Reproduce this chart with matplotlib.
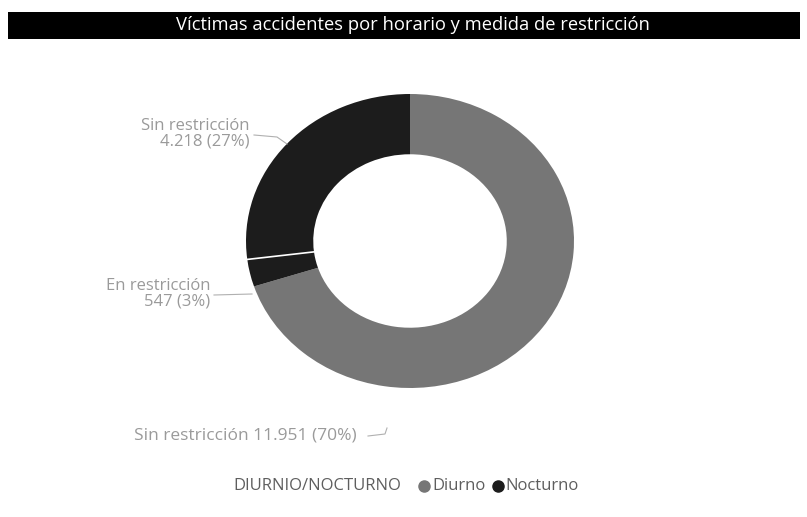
import numpy as np
import matplotlib
matplotlib.use("Agg")
import matplotlib.pyplot as plt

# datos
grupos = ["Diurno", "Nocturno", "Nocturno"]
medidas = ["Sin restricción", "En restricción", "Sin restricción"]
victimas = ["11.951", "547", "4.218"]
porcentajes = [70, 3, 27]
colores_grupo = {"Diurno": "#767676", "Nocturno": "#1c1c1c"}

titulo = "Víctimas accidentes por horario y medida de restricción"
leyenda_titulo = "DIURNIO/NOCTURNO"
leyenda_items = ["Diurno", "Nocturno"]

plt.rcParams['font.family'] = ['Open Sans', 'DejaVu Sans']

W, H = 807, 517
fig = plt.figure(figsize=(W / 100, H / 100), dpi=100)
fig.patch.set_facecolor("white")

# barra del titulo
bar = fig.add_axes([8 / W, 1 - 39 / H, 792 / W, 27 / H])
bar.set_facecolor("black")
bar.set_xticks([]), bar.set_yticks([])
for s in bar.spines.values():
    s.set_visible(False)
bar.text((413 - 8) / 792, 0.5, titulo, color="white", fontsize=13.2, ha="center", va="center",
         transform=bar.transAxes)

# dona (ligeramente achatada como en la imagen)
cx, cy, rx, ry = 410, 241, 164, 147
ax = fig.add_axes([(cx - rx) / W, 1 - (cy + ry) / H, 2 * rx / W, 2 * ry / H])
cols = [colores_grupo[g] for g in grupos]
wedges, _ = ax.pie(porcentajes, colors=cols, startangle=90, counterclock=False,
                   radius=1, wedgeprops=dict(width=0.41, edgecolor="none"))
ax.set_xlim(-1, 1)
ax.set_ylim(-1, 1)
ax.set_aspect("auto")
ax.axis("off")

# linea blanca entre los dos segmentos nocturnos
ang = np.deg2rad(wedges[1].theta1)
ax.plot([0.59 * np.cos(ang), np.cos(ang)], [0.59 * np.sin(ang), np.sin(ang)],
        color="white", lw=1.2)

txt_col = "#9a9a9a"
lin_col = "#b0b0b0"
fs = 12
# etiquetas
fig.text(250 / W, 1 - 134 / H, f"{medidas[2]}\n{victimas[2]} ({porcentajes[2]}%)",
         ha="right", va="center", fontsize=fs, color=txt_col, linespacing=0.95)
fig.add_artist(plt.Line2D([254 / W, 277 / W, 287 / W],
                          [1 - 135 / H, 1 - 137 / H, 1 - 144 / H], color=lin_col, lw=0.8))

fig.text(210 / W, 1 - 294 / H, f"{medidas[1]}\n{victimas[1]} ({porcentajes[1]}%)",
         ha="right", va="center", fontsize=fs, color=txt_col, linespacing=0.95)
fig.add_artist(plt.Line2D([214 / W, 252 / W], [1 - 295 / H, 1 - 294 / H],
                          color=lin_col, lw=0.8))

fig.text(134 / W, 1 - 436 / H, f"{medidas[0]} {victimas[0]} ({porcentajes[0]}%)",
         ha="left", va="center", fontsize=12.5, color=txt_col)
fig.add_artist(plt.Line2D([368 / W, 385 / W, 387 / W], [1 - 436 / H, 1 - 434 / H, 1 - 428 / H],
                          color=lin_col, lw=0.8))

# leyenda
ley_y = 1 - 486 / H
ley_col = "#5e5e5e"
fig.text(233 / W, ley_y, leyenda_titulo, ha="left", va="center", fontsize=12, color=ley_col)
xs_marca = [424, 498]
xs_texto = [432, 505]
for item, xm, xt in zip(leyenda_items, xs_marca, xs_texto):
    fig.add_artist(plt.Line2D([xm / W], [ley_y], marker="o", markersize=8,
                              color=colores_grupo[item], linestyle="none"))
    fig.text(xt / W, ley_y, item, ha="left", va="center", fontsize=12, color=ley_col)

fig.savefig("out.png", dpi=100)
